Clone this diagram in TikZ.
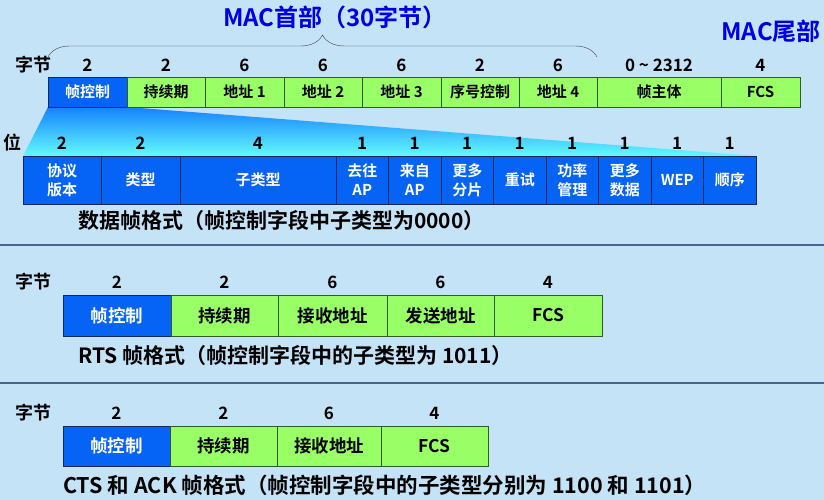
\documentclass[tikz,border=0pt]{standalone}
\usepackage{fontspec}
\setmainfont{Noto Sans CJK SC}[BoldFont={Noto Sans CJK SC Bold}]
\usetikzlibrary{positioning, backgrounds, decorations.pathreplacing}
\definecolor{bgblue}{RGB}{197,227,247}
\definecolor{ctrlblue}{RGB}{5,100,245}
\definecolor{ctrlline}{RGB}{20,40,90}
\definecolor{fieldgreen}{RGB}{153,255,102}
\definecolor{fieldline}{RGB}{50,90,40}
\definecolor{titleblue}{RGB}{0,0,230}
\definecolor{rulecol}{RGB}{70,100,140}
\definecolor{shadetop}{RGB}{20,130,255}
\definecolor{shadebot}{RGB}{100,250,255}
\tikzstyle{ctrl} = [rectangle, draw=ctrlline, fill=ctrlblue, text=white, inner sep=0pt, outer sep=0pt, font=\fontsize{15}{18}\selectfont\bfseries]
\tikzstyle{field} = [rectangle, draw=fieldline, fill=fieldgreen, text=black, inner sep=0pt, outer sep=0pt, font=\fontsize{15}{18}\selectfont\bfseries]
\tikzstyle{bits} = [ctrl, minimum height=48pt, align=center, font=\fontsize{15}{19}\selectfont\bfseries]
\tikzstyle{big} = [font=\fontsize{17.5}{20}\selectfont\bfseries]
\tikzstyle{num} = [font=\fontsize{17}{19}\selectfont\bfseries]
\tikzstyle{unit} = [font=\fontsize{18}{20}\selectfont\bfseries]
\tikzstyle{caption} = [anchor=west, inner sep=0pt, font=\fontsize{21}{23}\selectfont\bfseries]
\tikzstyle{title} = [text=titleblue, inner sep=0pt, font=\fontsize{24}{26}\selectfont\bfseries]
\tikzstyle{brace} = [decorate, decoration={brace, amplitude=22pt}, draw=black!75, thin]

\begin{document}
\begin{tikzpicture}[x=1pt, y=-1pt]
\useasboundingbox (0,0) rectangle (824,500);

% MAC header / trailer
\node (hdr) [title] at (335,17) {MAC首部（30字节）};
\node (tail) [title, anchor=east] at (821,31) {MAC尾部};

% data frame
\node (fc) [ctrl, minimum width=79pt, minimum height=30pt, anchor=north west] at (48,77) {帧控制};
\node (dur) [field, minimum width=78pt, minimum height=30pt, right=0pt of fc] {持续期};
\node (addr1) [field, minimum width=79pt, minimum height=30pt, right=0pt of dur] {地址 1};
\node (addr2) [field, minimum width=78pt, minimum height=30pt, right=0pt of addr1] {地址 2};
\node (addr3) [field, minimum width=79pt, minimum height=30pt, right=0pt of addr2] {地址 3};
\node (seq) [field, minimum width=78pt, minimum height=30pt, right=0pt of addr3] {序号控制};
\node (addr4) [field, minimum width=78pt, minimum height=30pt, right=0pt of seq] {地址 4};
\node (body) [field, minimum width=124pt, minimum height=30pt, right=0pt of addr4] {帧主体};
\node (fcs) [field, minimum width=79pt, minimum height=30pt, right=0pt of body] {FCS};

\node (bytes1) [unit] at (34,65) {字节};
\node (fcn) [num] at ([yshift=12pt]fc.north) {2};
\node (durn) [num] at ([yshift=12pt]dur.north) {2};
\node (addr1n) [num] at ([yshift=12pt]addr1.north) {6};
\node (addr2n) [num] at ([yshift=12pt]addr2.north) {6};
\node (addr3n) [num] at ([yshift=12pt]addr3.north) {6};
\node (seqn) [num] at ([yshift=12pt]seq.north) {2};
\node (addr4n) [num] at ([yshift=12pt]addr4.north) {6};
\node (bodyn) [num] at ([yshift=12pt]body.north) {0 \textasciitilde{} 2312};
\node (fcsn) [num] at ([yshift=12pt]fcs.north) {4};

\draw [brace] ([yshift=20pt]fc.north west) -- ([yshift=20pt]addr4.north east);

% frame control bits
\node (pv) [bits, minimum width=78pt, anchor=north west] at (23,156) {协议\\版本};
\node (type) [bits, minimum width=79pt, right=0pt of pv] {类型};
\node (subtype) [bits, minimum width=156pt, right=0pt of type] {子类型};
\node (tods) [bits, minimum width=52.5pt, right=0pt of subtype] {去往\\AP};
\node (fromds) [bits, minimum width=52.5pt, right=0pt of tods] {来自\\AP};
\node (morefrag) [bits, minimum width=52.5pt, right=0pt of fromds] {更多\\分片};
\node (retry) [bits, minimum width=52.5pt, right=0pt of morefrag] {重试};
\node (pwrmgt) [bits, minimum width=52.5pt, right=0pt of retry] {功率\\管理};
\node (moredata) [bits, minimum width=52.5pt, right=0pt of pwrmgt] {更多\\数据};
\node (wep) [bits, minimum width=52.5pt, right=0pt of moredata] {WEP};
\node (order) [bits, minimum width=52.5pt, right=0pt of wep] {顺序};

\node (bitlbl) [unit] at (13,143) {位};
\node (pvn) [num] at ([yshift=13pt]pv.north) {2};
\node (typen) [num] at ([yshift=13pt]type.north) {2};
\node (subtypen) [num] at ([yshift=13pt]subtype.north) {4};
\node (todsn) [num] at ([yshift=13pt]tods.north) {1};
\node (fromdsn) [num] at ([yshift=13pt]fromds.north) {1};
\node (morefragn) [num] at ([yshift=13pt]morefrag.north) {1};
\node (retryn) [num] at ([yshift=13pt]retry.north) {1};
\node (pwrmgtn) [num] at ([yshift=13pt]pwrmgt.north) {1};
\node (moredatan) [num] at ([yshift=13pt]moredata.north) {1};
\node (wepn) [num] at ([yshift=13pt]wep.north) {1};
\node (ordern) [num] at ([yshift=13pt]order.north) {1};

\node (dcap) [caption] at (78,220) {数据帧格式（帧控制字段中子类型为0000）};

\draw [rulecol, line width=1.2pt] (0,245) -- (824,245);

% RTS frame
\node (rfc) [ctrl, big, minimum width=108pt, minimum height=41pt, anchor=north west] at (63,295) {帧控制};
\node (rdur) [field, big, minimum width=107pt, minimum height=41pt, right=0pt of rfc] {持续期};
\node (rra) [field, big, minimum width=109pt, minimum height=41pt, right=0pt of rdur] {接收地址};
\node (rta) [field, big, minimum width=107pt, minimum height=41pt, right=0pt of rra] {发送地址};
\node (rfcs) [field, big, minimum width=108pt, minimum height=41pt, right=0pt of rta] {FCS};

\node (bytes2) [unit] at (34,282) {字节};
\node (rfcn) [num] at ([yshift=13pt]rfc.north) {2};
\node (rdurn) [num] at ([yshift=13pt]rdur.north) {2};
\node (rran) [num] at ([yshift=13pt]rra.north) {6};
\node (rtan) [num] at ([yshift=13pt]rta.north) {6};
\node (rfcsn) [num] at ([yshift=13pt]rfcs.north) {4};

\node (rcap) [caption] at (78,355) {RTS 帧格式（帧控制字段中的子类型为 1011）};

\draw [rulecol, line width=1.2pt] (0,383) -- (824,383);

% CTS and ACK frame
\node (cfc) [ctrl, big, minimum width=107pt, minimum height=40pt, anchor=north west] at (63,426) {帧控制};
\node (cdur) [field, big, minimum width=107pt, minimum height=40pt, right=0pt of cfc] {持续期};
\node (cra) [field, big, minimum width=104pt, minimum height=40pt, right=0pt of cdur] {接收地址};
\node (cfcs) [field, big, minimum width=107pt, minimum height=40pt, right=0pt of cra] {FCS};

\node (bytes3) [unit] at (34,413) {字节};
\node (cfcn) [num] at ([yshift=13pt]cfc.north) {2};
\node (cdurn) [num] at ([yshift=13pt]cdur.north) {2};
\node (cran) [num] at ([yshift=13pt]cra.north) {6};
\node (cfcsn) [num] at ([yshift=13pt]cfcs.north) {4};

\node (ccap) [caption, font=\fontsize{21.5}{24}\selectfont\bfseries] at (63,485) {CTS 和 ACK 帧格式（帧控制字段中的子类型分别为 1100 和 1101）};

\begin{scope}[on background layer]
\fill [bgblue] (0,0) rectangle (824,500);
\shade [top color=shadetop, bottom color=shadebot] (fc.south west) -- (fc.south east) -- (order.north east) -- (pv.north west) -- cycle;
\end{scope}

\end{tikzpicture}
\end{document}
